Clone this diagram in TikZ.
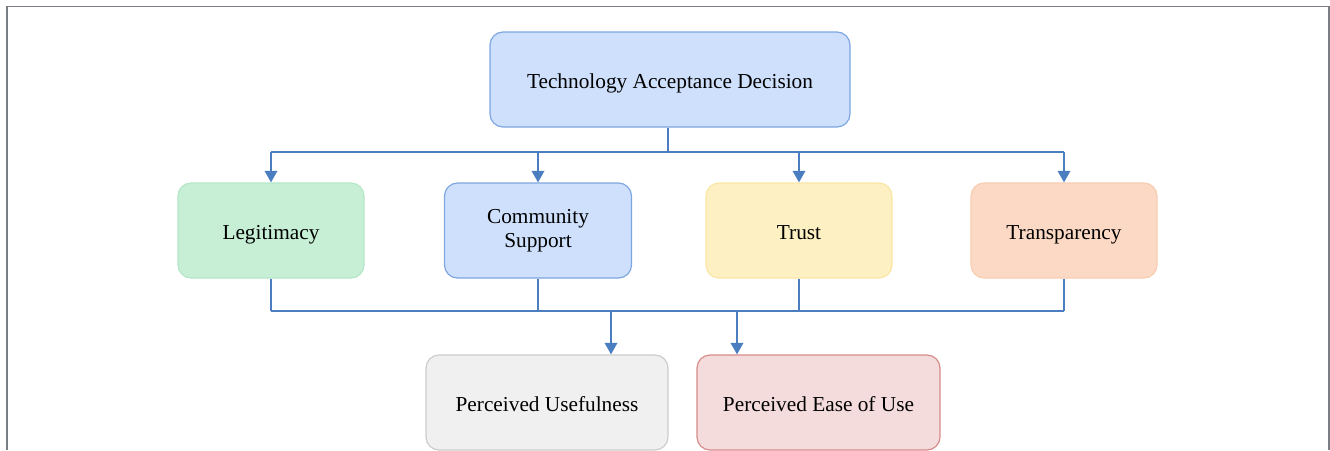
\documentclass[tikz,border=0pt]{standalone}
\usepackage{fontspec}
\setmainfont{Liberation Serif}
\usetikzlibrary{arrows.meta}
\definecolor{linkblue}{RGB}{74,126,193}
\definecolor{frame}{RGB}{122,126,133}
\definecolor{blueF}{RGB}{206,224,252}\definecolor{blueD}{RGB}{126,166,224}
\definecolor{greenF}{RGB}{198,239,214}\definecolor{greenD}{RGB}{180,230,200}
\definecolor{yellowF}{RGB}{253,240,194}\definecolor{yellowD}{RGB}{250,230,165}
\definecolor{orangeF}{RGB}{251,217,196}\definecolor{orangeD}{RGB}{248,205,178}
\definecolor{greyF}{RGB}{240,240,240}\definecolor{greyD}{RGB}{204,204,204}
\definecolor{redF}{RGB}{244,220,220}\definecolor{redD}{RGB}{214,140,138}
\tikzset{
  box/.style={draw, line width=1.2pt, rounded corners=13pt, align=center,
    minimum height=95pt, inner sep=0pt,
    font=\fontsize{21.3}{24}\selectfont},
  oneline/.style={text height=19pt, text depth=1pt},
  link/.style={draw=linkblue, line width=1.8pt},
  arr/.style={link, -{Triangle[width=12.5pt,length=11.5pt]}}
}
\begin{document}
\begin{tikzpicture}[x=1pt,y=-1pt]
\useasboundingbox (0,0) rectangle (1330,450);
% outer frame
\draw[frame, line width=1.6pt] (7,450) -- (7,6.5) -- (1329,6.5) -- (1329,450);

% top node
\node[box, oneline, fill=blueF, draw=blueD, minimum width=360pt] (tad) at (670,79.5) {Technology Acceptance Decision};

% factor row
\node[box, oneline, fill=greenF, draw=greenD, minimum width=186pt] (leg) at (271,230.5) {Legitimacy};
\node[box, fill=blueF, draw=blueD, minimum width=187pt] (com) at (538,230.5) {Community\\Support};
\node[box, oneline, fill=yellowF, draw=yellowD, minimum width=186pt] (tru) at (799,230.5) {Trust};
\node[box, oneline, fill=orangeF, draw=orangeD, minimum width=186pt] (tra) at (1064,230.5) {Transparency};

% outcome row
\node[box, oneline, fill=greyF, draw=greyD, minimum width=242pt] (pu) at (547,402.5) {Perceived Usefulness};
\node[box, oneline, fill=redF, draw=redD, minimum width=243pt] (pe) at (818.5,402.5) {Perceived Ease of Use};

% distribution bus
\coordinate (top) at (668,152);
\draw[link] (tad.south -| top) -- (top);
\draw[link] (leg.north |- top) -- (tra.north |- top);
\foreach \n in {leg,com,tru,tra}
  \draw[arr] (\n.north |- top) -- (\n.north);

% collection bus
\coordinate (low) at (0,311);
\foreach \n in {leg,com,tru,tra}
  \draw[link] (\n.south) -- (\n.south |- low);
\draw[link] (leg.south |- low) -- (tra.south |- low);
\coordinate (b1) at (611,311);
\coordinate (b2) at (737,311);
\draw[arr] (b1) -- (b1 |- pu.north);
\draw[arr] (b2) -- (b2 |- pe.north);
\end{tikzpicture}
\end{document}
